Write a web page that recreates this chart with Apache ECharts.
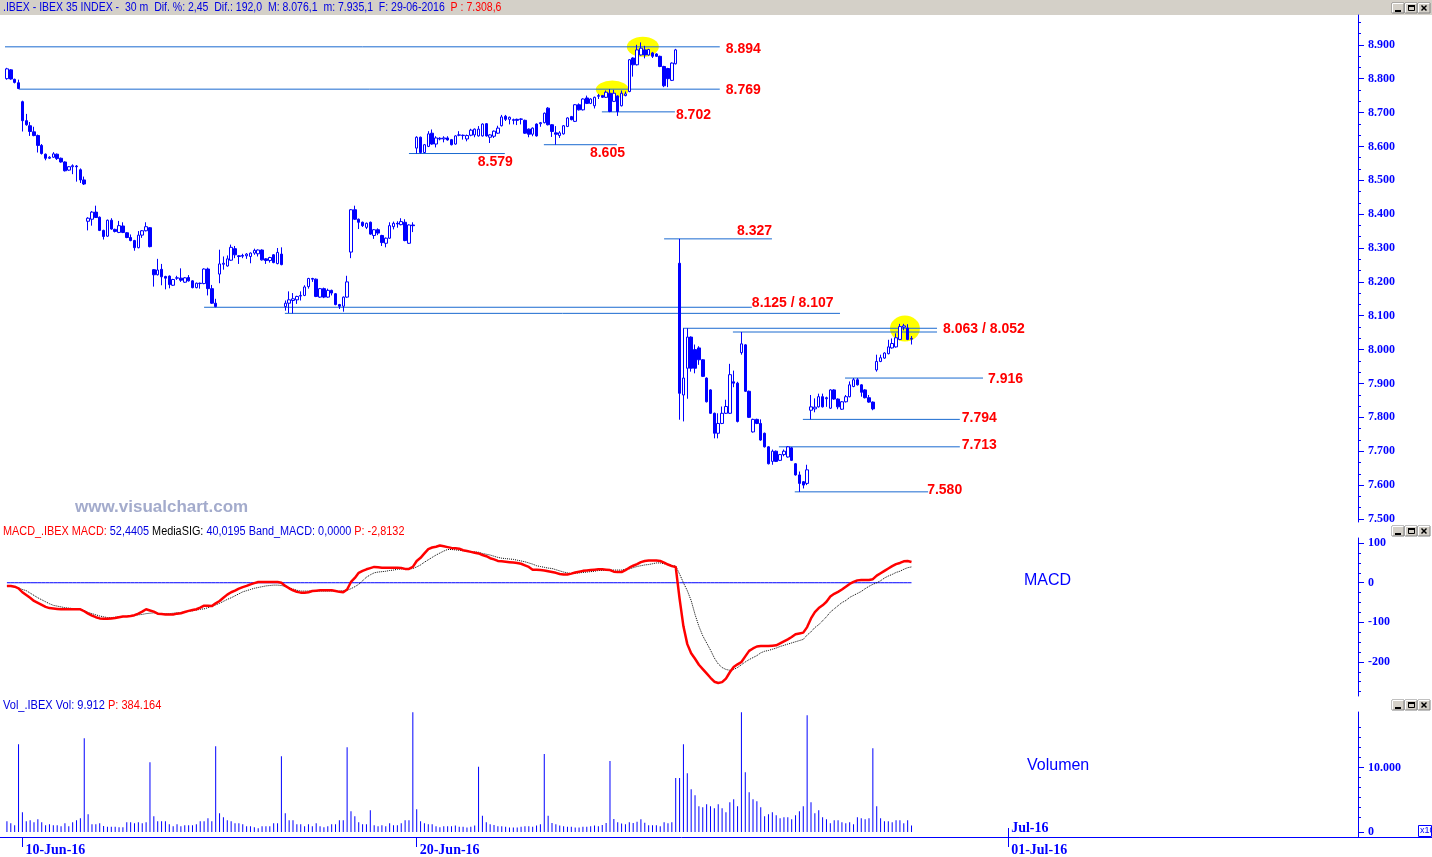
<!DOCTYPE html>
<html><head><meta charset="utf-8">
<script src="https://cdn.jsdelivr.net/npm/echarts@6/dist/echarts.min.js"></script>
<style>html,body{margin:0;padding:0;background:#fff;overflow:hidden}#c{width:1432px;height:857px}</style>
</head><body><div id="c"></div>
<script>
// ---------- categories (30-minute bars) ----------
const dayLabels = ['09-Jun-16','10-Jun-16','13-Jun-16','14-Jun-16','15-Jun-16','16-Jun-16','17-Jun-16','20-Jun-16','21-Jun-16','22-Jun-16','23-Jun-16','24-Jun-16','27-Jun-16','28-Jun-16','29-Jun-16','30-Jun-16','01-Jul-16','04-Jul-16','05-Jul-16','06-Jul-16','07-Jul-16','08-Jul-16'];
const sessionTimes = ['09:00','09:30','10:00','10:30','11:00','11:30','12:00','12:30','13:00','13:30','14:00','14:30','15:00','15:30','16:00','16:30','17:00'];
const firstSessionOffset = 13;
const slotCount = 350;
const xTickLabels = ['10-Jun-16','20-Jun-16','01-Jul-16'];
const monthStartDay = '01-Jul-16';
const monthLabel = 'Jul-16';

// ---------- price (OHLC) ----------
const opens = [8800,8826,8798,8788,8732,8676,8661,8643,8632,8603,
8577,8565,8568,8577,8565,8554,8530,8540,8542,8531,
8501,8379,8385,8406,8391,8352,8335,8382,8355,8346,
8365,8345,8331,8322,8301,8338,8351,8360,8236,8221,
8237,8216,8217,8190,8211,8211,8199,8213,8203,8183,
8196,8195,8238,8180,8137,8223,8252,8247,8264,8298,
8277,8278,8277,8275,8285,8283,8294,8268,8263,8280,
8254,8282,8127,8137,8145,8147,8158,8160,8186,8210,
8208,8155,8180,8155,8175,8165,8133,8128,8155,8288,
8413,8385,8376,8361,8376,8337,8354,8337,8314,8329,
8363,8373,8369,8376,8314,8368,8595,8627,8582,8600,
8639,8607,8622,8622,8625,8620,8607,8633,8632,8622,
8633,8634,8631,8631,8667,8627,8630,8639,8661,8689,
8680,8679,8680,8681,8677,8651,8636,8666,8667,8670,
8713,8664,8640,8632,8637,8659,8688,8674,8723,8708,
8743,8727,8720,8748,8750,8745,8757,8733,8749,8720,
8750,8762,8861,8841,8870,8885,8870,8876,8873,8866,
8836,8830,8795,8844,8255,7866,7945,8037,8000,8005,
7970,7916,7881,7812,7753,7782,7812,7812,7905,7901,
7991,8014,7877,7757,7794,7782,7753,7713,7670,7700,
7673,7690,7683,7710,7663,7630,7610,7605,7821,7825,
7831,7861,7855,7827,7881,7854,7824,7846,7861,7891,
7911,7896,7881,7858,7845,7940,7965,7975,7988,8005,
8008,8030,8066,8064,8031];
const closes = [8829,8799,8789,8771,8676,8664,8644,8632,8603,8579,
8565,8568,8578,8564,8554,8528,8540,8543,8540,8501,
8489,8388,8406,8390,8352,8334,8382,8356,8349,8366,
8346,8331,8322,8301,8338,8351,8363,8304,8221,8235,
8215,8211,8192,8207,8212,8205,8212,8203,8183,8196,
8195,8238,8180,8137,8127,8253,8255,8268,8302,8280,
8275,8276,8282,8285,8293,8294,8265,8263,8272,8257,
8287,8251,8137,8147,8150,8157,8160,8185,8210,8208,
8157,8180,8155,8175,8167,8133,8128,8155,8200,8413,
8385,8376,8366,8373,8341,8354,8344,8316,8329,8366,
8373,8371,8378,8322,8368,8366,8627,8582,8605,8637,
8607,8625,8624,8625,8619,8605,8631,8634,8633,8632,
8648,8651,8651,8666,8631,8634,8645,8654,8687,8680,
8686,8677,8677,8680,8639,8636,8654,8631,8670,8698,
8664,8644,8636,8640,8661,8684,8679,8723,8708,8740,
8727,8740,8745,8750,8745,8760,8703,8757,8703,8757,
8755,8856,8841,8885,8890,8870,8886,8866,8866,8836,
8779,8800,8846,8885,7871,7916,8037,7945,7945,7970,
7921,7846,7812,7753,7782,7812,7832,7926,7901,7788,
8017,7877,7800,7794,7782,7733,7713,7663,7700,7670,
7690,7700,7713,7673,7630,7605,7600,7645,7831,7830,
7861,7831,7858,7881,7854,7831,7846,7861,7896,7911,
7896,7874,7858,7845,7825,7965,7976,7990,8008,8018,
8035,8068,8070,8030,8033];
const lows = [8797,8797,8786,8769,8644,8661,8631,8630,8582,8576,
8559,8563,8566,8560,8552,8526,8528,8518,8496,8492,
8486,8352,8366,8389,8350,8325,8333,8354,8346,8344,
8344,8329,8320,8292,8299,8330,8349,8302,8186,8219,
8190,8178,8181,8188,8206,8200,8197,8201,8181,8181,
8180,8193,8160,8135,8125,8196,8236,8245,8262,8270,
8253,8270,8268,8255,8280,8275,8263,8253,8257,8255,
8252,8249,8115,8108,8107,8135,8145,8158,8180,8200,
8155,8153,8152,8153,8160,8131,8120,8112,8153,8270,
8383,8356,8362,8356,8339,8327,8338,8306,8302,8327,
8355,8360,8367,8320,8312,8347,8579,8579,8580,8598,
8605,8597,8618,8612,8617,8603,8605,8630,8620,8615,
8630,8627,8629,8629,8629,8610,8625,8637,8659,8675,
8665,8665,8663,8665,8637,8627,8630,8629,8658,8668,
8662,8628,8605,8625,8635,8657,8677,8672,8706,8706,
8725,8725,8712,8740,8743,8743,8701,8731,8690,8718,
8748,8760,8806,8839,8868,8860,8868,8861,8864,8834,
8775,8775,8793,8842,7793,7788,7855,7935,7930,7955,
7919,7844,7810,7738,7738,7780,7810,7810,7889,7785,
7985,7875,7798,7755,7780,7731,7711,7661,7660,7668,
7671,7685,7681,7671,7628,7580,7590,7600,7794,7815,
7829,7829,7831,7825,7852,7824,7822,7844,7859,7889,
7894,7861,7856,7843,7821,7935,7963,7973,7986,8003,
8006,8028,8057,8028,8015];
const highs = [8832,8828,8800,8797,8735,8696,8672,8658,8635,8607,
8579,8571,8583,8579,8567,8556,8542,8547,8545,8535,
8511,8391,8409,8425,8393,8354,8384,8388,8357,8380,
8376,8347,8340,8324,8350,8353,8376,8362,8238,8268,
8253,8218,8219,8209,8218,8240,8214,8220,8205,8198,
8198,8240,8242,8191,8150,8295,8275,8278,8310,8306,
8279,8283,8285,8287,8298,8296,8296,8270,8274,8282,
8300,8302,8145,8172,8167,8159,8172,8190,8212,8212,
8210,8182,8183,8180,8177,8167,8135,8157,8218,8415,
8425,8387,8378,8375,8378,8356,8358,8339,8331,8376,
8378,8379,8388,8385,8370,8376,8630,8629,8607,8645,
8650,8630,8627,8630,8630,8622,8633,8645,8635,8635,
8652,8653,8660,8668,8669,8636,8647,8661,8693,8693,
8688,8682,8682,8683,8679,8653,8656,8668,8672,8700,
8716,8666,8660,8645,8663,8686,8690,8725,8727,8742,
8750,8742,8747,8755,8752,8765,8769,8767,8751,8765,
8762,8858,8863,8900,8907,8897,8888,8879,8875,8868,
8838,8832,8848,8888,8327,8063,8063,8039,8015,8010,
7972,7918,7883,7814,7812,7832,7852,7958,7938,7905,
8052,8016,7879,7796,7796,7794,7755,7715,7705,7702,
7692,7705,7715,7712,7665,7640,7612,7660,7866,7856,
7870,7870,7861,7883,7883,7856,7848,7866,7906,7916,
7916,7898,7883,7866,7847,7985,7985,7992,8029,8033,
8048,8076,8076,8075,8040];

// ---------- volume ----------
const volumes = [16500,13400,10300,136000,30500,16500,18100,15000,19600,15000,
10300,11900,10300,10300,8800,13400,8800,15000,18100,21200,
145300,27400,11900,11900,13400,9300,8300,8300,8300,7200,
7200,15000,15000,13400,15000,13400,15000,108000,24300,16500,
16500,16500,11900,8800,11900,8800,10300,10300,10300,11900,
16500,16500,21200,16500,132900,29000,22700,18100,16500,13400,
13400,11900,8800,8800,7200,5700,8800,8800,8800,13400,
13400,117400,29000,18100,18100,11900,11900,8800,11900,8800,
13400,8800,7200,8800,11900,11900,18100,18100,131300,32000,
24300,15000,11900,11900,33600,10300,8800,10300,8800,13400,
10300,10300,13400,18100,18100,185600,35200,16500,13400,11900,
11900,8800,7200,8800,9000,9000,10000,8000,8000,7000,
8000,10000,101000,25000,15000,12000,11000,9000,9000,8000,
7000,7000,7000,8000,9000,9000,8000,10000,12000,121000,
25000,14000,12000,10000,9000,8000,8000,7000,7000,8000,
8000,9000,10000,9000,11000,14000,110000,20000,15000,13000,
12000,15000,14000,16000,19600,14500,10300,10300,10300,8800,
15000,13400,15000,83800,83800,136000,91000,66200,56900,39800,
38300,42900,39800,36700,42900,36700,30500,46000,50700,39800,
185600,92500,61500,50700,47600,38300,24300,27400,30500,25900,
21200,22700,22700,19600,25900,32000,39800,181000,46000,29000,
33600,22700,19600,13400,18100,18100,15000,13400,15000,11900,
22700,21200,19600,21200,129800,39800,21200,16500,16500,15000,
18100,18100,13400,18100,9912];

// ---------- MACD ----------
const macdLine = [-8,-8,-10,-14,-24,-31,-38,-46,-51,-56,
-61,-64,-65,-66,-67,-67,-67,-67,-67,-67,
-72,-78,-83,-87,-90,-91,-91,-90,-89,-87,
-85,-85,-84,-82,-78,-73,-67,-70,-73,-78,
-79,-80,-80,-80,-78,-77,-74,-71,-69,-67,
-63,-58,-58,-59,-52,-46,-38,-30,-24,-20,
-15,-11,-8,-4,-1,2,2,2,2,2,
2,0,-8,-14,-19,-23,-25,-25,-24,-21,
-20,-19,-19,-19,-19,-21,-23,-24,-17,2,
12,25,30,34,37,40,39,38,38,38,
38,38,37,35,35,40,55,63,74,85,
89,91,94,92,90,88,87,86,82,80,
78,76,74,70,67,62,59,55,54,53,
52,51,50,48,44,40,33,33,32,31,
29,27,25,22,21,21,23,26,28,30,
31,32,33,34,34,33,32,28,27,27,
32,38,43,47,52,55,56,56,56,55,
51,46,42,40,-40,-110,-155,-178,-192,-207,
-218,-229,-240,-250,-253,-251,-242,-226,-213,-206,
-200,-186,-172,-166,-161,-160,-160,-160,-159,-158,
-153,-148,-143,-137,-130,-128,-126,-112,-90,-74,
-64,-57,-48,-35,-28,-23,-17,-10,-3,2,
6,7,7,7,9,18,24,30,36,42,
47,50,54,55,52.4405];
const signalLine = [-8,-9,-10,-13,-17,-20,-26,-32,-38,-43,
-48,-53,-57,-59,-61,-63,-64,-65,-66,-67,
-70,-75,-78,-81,-84,-86,-88,-88,-87,-86,
-85,-85,-84,-83,-81,-80,-78,-77,-76,-77,
-78,-78,-78,-77,-76,-75,-74,-72,-71,-69,
-67,-66,-63,-59,-56,-52,-47,-42,-38,-33,
-28,-23,-20,-17,-14,-12,-10,-8,-7,-6,
-6,-7,-9,-12,-16,-19,-21,-21,-21,-21,
-21,-21,-21,-21,-21,-21,-21,-20,-19,-15,
-10,-4,5,14,20,25,27,28,29,31,
32,34,35,35,35,36,40,45,52,58,
64,70,75,80,84,84,83,82,81,80,
79,78,77,74,72,70,67,64,62,61,
60,59,57,55,53,50,47,43,41,39,
37,36,33,30,27,25,23,24,25,26,
27,28,29,31,31,32,32,32,32,32,
34,35,38,41,43,45,46,48,50,50,
48,46,44,42,22,0,-20,-45,-80,-110,
-134,-152,-170,-190,-205,-214,-219,-221,-219,-214,
-207,-200,-194,-189,-184,-177,-173,-171,-168,-165,
-161,-158,-155,-152,-149,-146,-143,-132,-124,-113,
-106,-96,-86,-74,-66,-58,-50,-45,-37,-32,
-27,-22,-15,-9,-4,0,5,12,17,21,
26,29,34,38,40.0195];
const bandLevel = 0;

// ---------- annotations (support / resistance levels) ----------
const levelValues = [8894, 8769, 8702, 8605, 8579, 8327, 8125, 8107, 8063, 8052, 7916, 7794, 7713, 7580];
const levelStart  = [-0.5, 3.1, 153.9, 138.9, 104, 170, 51, 71.9, 174.9, 187.8, 216.8, 205.9, 199.7, 203.8];
const levelEnd    = [184.4, 184.4, 172.8, 157.8, 128.8, 197.9, 192.7, 215.5, 240.6, 240.6, 252.5, 246.5, 246.5, 238.3];
const levelLabels = ['8.894','8.769','8.702','8.605','8.579','8.327','8.125 / 8.107','','8.063 / 8.052','','7.916','7.794','7.713','7.580'];
const highlightCenters = [[164.5, 8894], [156.6, 8768], [232.3, 8062]];

// ---------- tick labels ----------
const priceTicks = [7500,7600,7700,7800,7900,8000,8100,8200,8300,8400,8500,8600,8700,8800,8900];
const macdTicks = [-200,-100,0,100];
const volumeTicks = [0,100000];

// ================= build =================
const categories = [];
for (let d = 0; d < dayLabels.length && categories.length < slotCount; d++) {
  for (let t = (d === 0 ? firstSessionOffset : 0); t < sessionTimes.length && categories.length < slotCount; t++) {
    categories.push(dayLabels[d] + ' ' + sessionTimes[t]);
  }
}
const dayOf = v => String(v).split(' ')[0];
const isDayStart = v => String(v).endsWith(' ' + sessionTimes[0]);

const candleData = opens.map((o, i) => [o, closes[i], lows[i], highs[i]]);
const bandData = macdLine.map(() => bandLevel);

const BLUE = '#0000ff';
const LEVEL = '#1a6ad0';
const thou = v => { const s = String(Math.round(Math.abs(v))); const r = s.replace(/\B(?=(\d{3})+(?!\d))/g, '.'); return (v < 0 ? '-' : '') + r; };

const priceMinor = [];
for (let v = 7500; v < 8988; v += 100) { priceMinor.push(v + 100/3, v + 200/3); }
const macdMinor = [];
for (let v = -275; v <= 100; v += 25) { if (v % 100 !== 0) macdMinor.push(v); }
const volMinor = [22500, 38000, 53500, 69000, 84500, 115500, 131000, 146500, 162000];

const axisFont = { color: BLUE, fontWeight: 'bold', fontSize: 12, fontFamily: '"Liberation Serif", serif' };
function majorY(gridIndex, min, max, ticks, fmt) {
  return { type: 'value', gridIndex, position: 'right', offset: 0, min, max,
    axisLine: { show: true, onZero: false, lineStyle: { color: BLUE, width: 1 } },
    axisTick: { show: true, length: 6, customValues: ticks, lineStyle: { color: BLUE } },
    axisLabel: Object.assign({ show: true, margin: 10, customValues: ticks, formatter: fmt }, axisFont),
    splitLine: { show: false } };
}
function minorY(gridIndex, min, max, ticks) {
  return { type: 'value', gridIndex, position: 'right', offset: 0, min, max,
    axisLine: { show: false, onZero: false }, axisLabel: { show: false }, splitLine: { show: false },
    axisTick: { show: true, length: 3, customValues: ticks, lineStyle: { color: BLUE } } };
}

// label offsets for level annotations (style)
const levelLabelOffsets = [[6,2],[6,1],[1,3],[-27,8],[-27,9],[-35,-8],[0,-4],[0,0],[6,1],[0,0],[5,1],[2,-1],[2,-2],[-1,-2]];

const levelSeries = levelValues.map((v, k) => ({
  type: 'line', xAxisIndex: 1, yAxisIndex: 0, z: 3, symbol: 'none', silent: true,
  data: [[levelStart[k], v], [levelEnd[k], v]],
  lineStyle: { color: LEVEL, width: 1 },
  endLabel: { show: levelLabels[k] !== '', formatter: () => levelLabels[k], distance: 0,
    offset: levelLabelOffsets[k], color: '#ff0000', fontWeight: 'bold', fontSize: 14,
    fontFamily: '"Liberation Sans", Arial, sans-serif', align: 'left', verticalAlign: 'middle' }
}));

const ellipseSizes = [[32,20],[33,18],[30,26]];

function buttons(y) {
  const xs = [1392, 1405, 1418];
  const out = [];
  xs.forEach((x, k) => {
    const ch = [
      { type: 'rect', shape: { x: 0, y: 0, width: 12, height: 10 }, style: { fill: '#d4d0c8', stroke: '#808080', lineWidth: 1 } },
      { type: 'polyline', shape: { points: [[0.5, 9.5],[0.5,0.5],[11.5,0.5]] }, style: { stroke: '#ffffff', lineWidth: 1, fill: null } }
    ];
    if (k === 0) ch.push({ type: 'rect', shape: { x: 3, y: 7, width: 6, height: 2 }, style: { fill: '#000' } });
    if (k === 1) { ch.push({ type: 'rect', shape: { x: 3.5, y: 2.5, width: 6, height: 5 }, style: { fill: null, stroke: '#000', lineWidth: 1 } });
                   ch.push({ type: 'rect', shape: { x: 3, y: 2, width: 7, height: 2 }, style: { fill: '#000' } }); }
    if (k === 2) { ch.push({ type: 'line', shape: { x1: 3.5, y1: 2.5, x2: 8.5, y2: 7.5 }, style: { stroke: '#000', lineWidth: 1.5 } });
                   ch.push({ type: 'line', shape: { x1: 8.5, y1: 2.5, x2: 3.5, y2: 7.5 }, style: { stroke: '#000', lineWidth: 1.5 } }); }
    out.push({ type: 'group', x, y, children: ch });
  });
  return out;
}

const sans = '"Liberation Sans", Arial, sans-serif';
const graphic = [
  { type: 'rect', shape: { x: 0, y: 0, width: 1432, height: 15 }, style: { fill: '#d4d0c8' }, z: 0 },
  { type: 'text', x: 3, y: 8, z: 5, scaleX: 0.875, style: { text: '{b|.IBEX - IBEX 35 INDEX -  30 m  Dif. %: 2,45  Dif.: 192,0  M: 8.076,1  m: 7.935,1  F: 29-06-2016  }{r|P : 7.308,6}',
      verticalAlign: 'middle', font: '12px ' + sans, rich: { b: { fill: '#0000e0', font: '12px ' + sans }, r: { fill: '#ff0000', font: '12px ' + sans } } } },
  ...buttons(3),
  { type: 'text', x: 3, y: 531.5, z: 5, scaleX: 0.905, style: { text: '{r|MACD_.IBEX MACD: }{b|52,4405 }{k|MediaSIG: }{b|40,0195 Band_MACD: 0,0000 }{r|P: -2,8132}',
      verticalAlign: 'middle', font: '12px ' + sans, rich: { b: { fill: '#0000e0', font: '12px ' + sans }, r: { fill: '#ff0000', font: '12px ' + sans }, k: { fill: '#000000', font: '12px ' + sans } } } },
  ...buttons(526),
  { type: 'text', x: 3, y: 705.5, z: 5, scaleX: 0.92, style: { text: '{b|Vol_.IBEX Vol: 9.912 }{r|P: 384.164}',
      verticalAlign: 'middle', font: '12px ' + sans, rich: { b: { fill: '#0000e0', font: '12px ' + sans }, r: { fill: '#ff0000', font: '12px ' + sans } } } },
  ...buttons(700),
  { type: 'text', x: 75, y: 507, z: 5, style: { text: 'www.visualchart.com', fill: '#a3abcc', verticalAlign: 'middle', font: 'bold 17px ' + sans } },
  { type: 'text', x: 1024, y: 581, z: 5, style: { text: 'MACD', fill: BLUE, verticalAlign: 'middle', font: '16px ' + sans } },
  { type: 'text', x: 1027, y: 766, z: 5, style: { text: 'Volumen', fill: BLUE, verticalAlign: 'middle', font: '16px ' + sans } },
  { type: 'rect', z: 5, shape: { x: 1418.5, y: 825.5, width: 13, height: 11 }, style: { fill: '#fff', stroke: BLUE, lineWidth: 1 } },
  { type: 'text', z: 6, x: 1420, y: 831, style: { text: 'x10', fill: BLUE, verticalAlign: 'middle', font: '9px ' + sans } },
  { type: 'line', z: 4, shape: { x1: 0, y1: 837.5, x2: 6, y2: 837.5 }, style: { stroke: BLUE, lineWidth: 1 } },
  { type: 'line', z: 4, shape: { x1: 1357, y1: 837.5, x2: 1432, y2: 837.5 }, style: { stroke: BLUE, lineWidth: 1 } }
];

const chart = echarts.init(document.getElementById('c'), null, { renderer: 'canvas' });
chart.setOption({
  animation: false,
  backgroundColor: '#ffffff',
  grid: [
    { left: 5, right: 74, top: 15, height: 507 },
    { left: 5, right: 74, top: 538, height: 158 },
    { left: 5, right: 74, top: 712, height: 125 }
  ],
  xAxis: [
    { type: 'category', gridIndex: 0, data: categories, show: false, boundaryGap: true, axisLine: { onZero: false } },
    { type: 'value', gridIndex: 0, min: -0.5, max: slotCount - 0.5, show: false, axisLine: { onZero: false } },
    { type: 'category', gridIndex: 1, data: categories, show: false, boundaryGap: true, axisLine: { onZero: false } },
    { type: 'category', gridIndex: 2, data: categories, boundaryGap: true, position: 'bottom',
      axisLine: { show: true, onZero: false, lineStyle: { color: BLUE, width: 1 } },
      axisTick: { show: true, alignWithLabel: true, length: 10, lineStyle: { color: BLUE },
        interval: (i, v) => isDayStart(categories[i]) && xTickLabels.includes(dayOf(categories[i])) },
      axisLabel: { show: true, margin: 6, align: 'left', padding: [0,0,0,3],
        interval: (i, v) => isDayStart(categories[i]) && xTickLabels.includes(dayOf(categories[i])),
        formatter: v => dayOf(v), color: BLUE, fontWeight: 'bold', fontSize: 14, fontFamily: '"Liberation Serif", serif' },
      splitLine: { show: false } },
    { type: 'category', gridIndex: 2, data: categories, boundaryGap: true, position: 'bottom',
      axisLine: { show: false, onZero: false },
      axisTick: { show: true, inside: true, alignWithLabel: true, length: 9, lineStyle: { color: BLUE },
        interval: (i, v) => isDayStart(categories[i]) && dayOf(categories[i]) === monthStartDay },
      axisLabel: { show: true, inside: true, margin: 2, align: 'left', padding: [0,0,0,3],
        interval: (i, v) => isDayStart(categories[i]) && dayOf(categories[i]) === monthStartDay,
        formatter: () => monthLabel, color: BLUE, fontWeight: 'bold', fontSize: 14, fontFamily: '"Liberation Serif", serif' },
      splitLine: { show: false } }
  ],
  yAxis: [
    majorY(0, 7491, 8988, priceTicks, v => thou(v)),
    minorY(0, 7491, 8988, priceMinor),
    majorY(1, -286, 113, macdTicks, v => String(v)),
    minorY(1, -286, 113, macdMinor),
    majorY(2, -7750, 186000, volumeTicks, v => thou(v / 10)),
    minorY(2, -7750, 186000, volMinor)
  ],
  graphic,
  series: [
    { type: 'scatter', xAxisIndex: 1, yAxisIndex: 0, z: 1, silent: true, symbol: 'circle',
      data: highlightCenters.map((c, k) => ({ value: c, symbolSize: ellipseSizes[k] })),
      itemStyle: { color: '#ffff00', opacity: 1 } },
    ...levelSeries,
    { type: 'candlestick', xAxisIndex: 0, yAxisIndex: 0, z: 4, barWidth: 3, data: candleData,
      itemStyle: { color: '#ffffff', color0: BLUE, borderColor: BLUE, borderColor0: BLUE, borderColorDoji: BLUE, borderWidth: 1 } },
    { type: 'line', xAxisIndex: 2, yAxisIndex: 2, symbol: 'none', data: bandData, lineStyle: { color: BLUE, width: 1 }, z: 2 },
    { type: 'line', xAxisIndex: 2, yAxisIndex: 2, symbol: 'none', data: signalLine, lineStyle: { color: '#000000', width: 1, type: 'dotted' }, z: 3 },
    { type: 'line', xAxisIndex: 2, yAxisIndex: 2, symbol: 'none', data: macdLine, lineStyle: { color: '#ff0000', width: 2.5 }, z: 4 },
    { type: 'bar', xAxisIndex: 3, yAxisIndex: 4, barWidth: 1, data: volumes, itemStyle: { color: BLUE }, z: 3 }
  ]
});
</script>
</body></html>
